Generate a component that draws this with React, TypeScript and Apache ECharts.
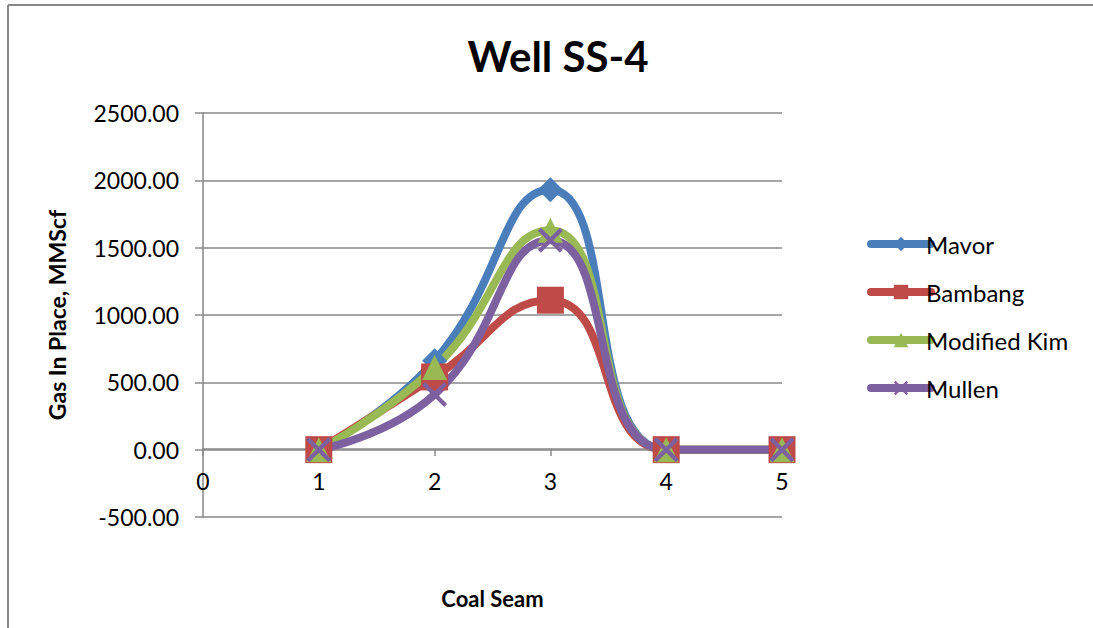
import React, { useEffect, useRef } from "react";
import * as echarts from "echarts";

const xValues = [1, 2, 3, 4, 5];
const mavor = [0, 660, 1930, 0, 0];
const bambang = [0, 540, 1110, 0, 0];
const modifiedKim = [0, 610, 1630, 0, 0];
const mullen = [0, 410, 1555, 0, 0];
const seriesNames = ["Mavor", "Bambang", "Modified Kim", "Mullen"];
const colors = ["#4A7EBB", "#BE4B48", "#98B954", "#7D60A0"];
const FONT = "Lato, 'Open Sans', sans-serif";

const xSymbol = "path://M0,1.2 L1.2,0 L10,8.8 L8.8,10 Z M8.8,0 L10,1.2 L1.2,10 L0,8.8 Z";

export default function App() {
  const ref = useRef<HTMLDivElement>(null);
  useEffect(() => {
    if (!ref.current) return;
    const chart = echarts.init(ref.current, null, { renderer: "svg" });
    const allData = [mavor, bambang, modifiedKim, mullen];
    const symbols = ["diamond", "rect", "triangle", xSymbol];
    const sizes = [25, 27, 25, 25];
    chart.setOption({
      animation: false,
      backgroundColor: "#ffffff",
      title: {
        text: "Well SS-4",
        left: 553,
        top: 30,
        textAlign: "center",
        textStyle: { fontFamily: FONT, fontSize: 42, fontWeight: "bold", color: "#000" },
      },
      grid: { left: 203, right: 311, top: 113, bottom: 111, outerBoundsMode: "none" },
      legend: {
        orient: "vertical",
        left: 862,
        top: 227,
        itemWidth: 60,
        itemHeight: 18,
        itemGap: 24,
        lineStyle: { width: 8, cap: "round" },
        textStyle: { fontFamily: FONT, fontSize: 24, color: "#000", padding: [0, 0, 0, -10] },
        data: seriesNames,
      },
      xAxis: {
        type: "value",
        min: 0,
        max: 5,
        interval: 1,
        offset: -68,
        name: "Coal Seam",
        nameLocation: "middle",
        nameGap: 138,
        nameTextStyle: { fontFamily: FONT, fontSize: 22, fontWeight: "bold", color: "#000" },
        axisLine: { onZero: false, lineStyle: { color: "#888", width: 1.5 } },
        axisTick: { show: true, length: 7, lineStyle: { color: "#888", width: 1.5 } },
        axisLabel: { fontFamily: FONT, fontSize: 23, color: "#000", margin: 20 },
        splitLine: { show: false },
      },
      yAxis: {
        type: "value",
        min: -500,
        max: 2500,
        interval: 500,
        name: "Gas In Place, MMScf",
        nameLocation: "middle",
        nameGap: 135,
        nameTextStyle: { fontFamily: FONT, fontSize: 23, fontWeight: "bold", color: "#000" },
        axisLine: { show: true, onZero: false, lineStyle: { color: "#888", width: 1.5 } },
        axisTick: { show: true, length: 8, lineStyle: { color: "#888", width: 1.5 } },
        axisLabel: {
          fontFamily: FONT,
          fontSize: 23,
          color: "#000",
          margin: 24,
          formatter: (v: number) => v.toFixed(2),
        },
        splitLine: { show: true, lineStyle: { color: "#888", width: 1.5 } },
      },
      graphic: [
        { type: "line", shape: { x1: 8, y1: 5, x2: 1093, y2: 5 }, style: { stroke: "#888", lineWidth: 2 } },
        { type: "line", shape: { x1: 8, y1: 5, x2: 8, y2: 628 }, style: { stroke: "#888", lineWidth: 2 } },
      ],
      series: seriesNames.map((name, i) => ({
        name,
        type: "line",
        smooth: 0.5,
        data: xValues.map((x, j) => [x, allData[i][j]]),
        symbol: symbols[i],
        symbolSize: sizes[i],
        showAllSymbol: true,
        lineStyle: { color: colors[i], width: 8 },
        itemStyle: { color: colors[i] },
        emphasis: { disabled: true },
      })),
    });
    return () => chart.dispose();
  }, []);
  return (
    <div
      ref={ref}
      style={{ position: "fixed", left: 0, top: 0, width: 1093, height: 628, background: "#fff" }}
    />
  );
}
